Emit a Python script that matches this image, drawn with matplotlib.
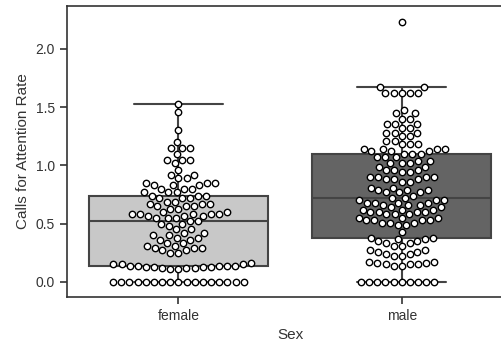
import numpy as np
import pandas as pd
import matplotlib
matplotlib.use("Agg")
import matplotlib.pyplot as plt
import seaborn as sns

sexes = ["female", "male"]

# values, as (value, count) rows
female_rows = [
    (0.00, 17),
    (0.11, 2), (0.12, 3), (0.13, 4), (0.14, 5), (0.15, 3), (0.16, 1),
    (0.25, 2), (0.27, 2), (0.29, 3), (0.31, 2), (0.33, 2),
    (0.36, 2), (0.38, 2), (0.40, 2), (0.42, 2), (0.45, 2),
    (0.48, 1), (0.50, 2), (0.52, 2), (0.55, 3), (0.57, 3), (0.58, 5), (0.60, 2),
    (0.63, 2), (0.65, 3), (0.67, 3), (0.69, 2), (0.72, 3),
    (0.74, 3), (0.77, 3), (0.80, 3),
    (0.83, 3), (0.85, 3), (0.89, 2), (0.92, 2),
    (0.96, 1), (1.02, 1), (1.05, 3), (1.10, 1), (1.15, 3), (1.20, 1),
    (1.30, 1), (1.46, 1), (1.53, 1),
]
male_rows = [
    (0.00, 10),
    (0.14, 2), (0.15, 3), (0.16, 2), (0.17, 2),
    (0.22, 2), (0.24, 2), (0.26, 2), (0.27, 2),
    (0.31, 2), (0.33, 2), (0.35, 2), (0.37, 2), (0.38, 2),
    (0.43, 1),
    (0.49, 2), (0.51, 3), (0.53, 4), (0.55, 3),
    (0.58, 3), (0.60, 4), (0.62, 3), (0.64, 2),
    (0.66, 3), (0.68, 4), (0.70, 3), (0.72, 2), (0.74, 1),
    (0.77, 3), (0.79, 3), (0.81, 2),
    (0.86, 2), (0.88, 3), (0.90, 4),
    (0.94, 2), (0.96, 3), (0.99, 2),
    (1.02, 3), (1.04, 2), (1.07, 3),
    (1.10, 3), (1.12, 3), (1.14, 4),
    (1.18, 3), (1.21, 2), (1.25, 2), (1.28, 3),
    (1.32, 2), (1.36, 3), (1.40, 2), (1.45, 2), (1.48, 1),
    (1.62, 5), (1.67, 2),
    (2.23, 1),
]


def expand(rows):
    out = []
    for v, n in rows:
        out += [v] * n
    return out


female = expand(female_rows)
male = expand(male_rows)
df = pd.DataFrame({
    "Sex": ["female"] * len(female) + ["male"] * len(male),
    "Calls for Attention Rate": female + male,
})

sns.set_style("ticks")
plt.rcParams["font.family"] = ["Liberation Sans", "DejaVu Sans"]

fig = plt.figure(figsize=(5.01, 3.45), dpi=100)
ax = fig.add_axes([0.133, 0.139, 0.892, 0.844])

sns.boxplot(data=df, x="Sex", y="Calls for Attention Rate", order=sexes,
            hue="Sex", palette=["#c8c8c8", "#646464"], legend=False,
            width=0.8, linewidth=1.5, linecolor="#444444",
            showfliers=False, ax=ax)
sns.swarmplot(data=df, x="Sex", y="Calls for Attention Rate", order=sexes,
              color="white", edgecolor="black", linewidth=1.0, size=4.6, ax=ax)

ax.set_xlim(-0.5, 1.5)
ax.set_ylim(-0.13, 2.37)
ax.set_yticks([0.0, 0.5, 1.0, 1.5, 2.0])
ax.set_xlabel("Sex", fontsize=11, color="#333333")
ax.set_ylabel("Calls for Attention Rate", fontsize=11, color="#333333")
ax.tick_params(labelsize=10, colors="#333333", length=5, width=1.2)
for s in ax.spines.values():
    s.set_linewidth(1.2)
    s.set_color("#333333")

fig.savefig("out.png", dpi=100)
